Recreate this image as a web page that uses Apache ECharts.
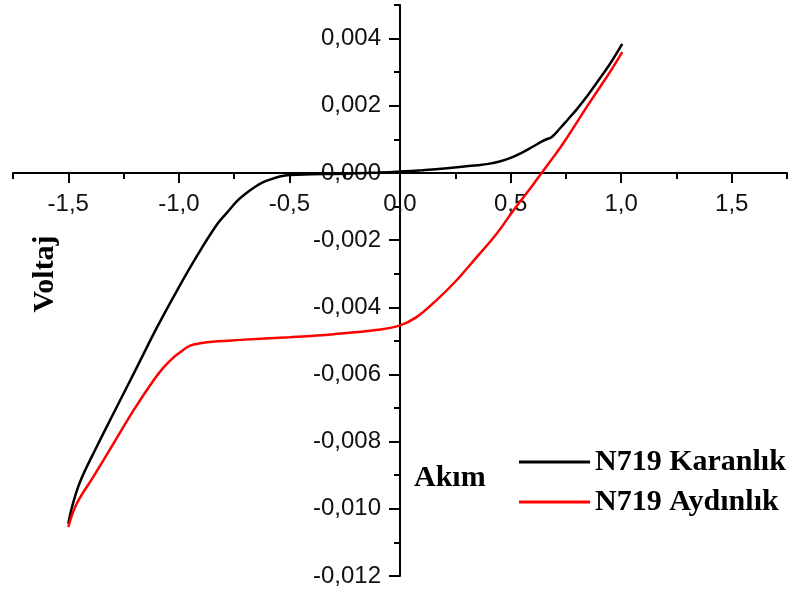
<!DOCTYPE html>
<html><head><meta charset="utf-8">
<script src="https://cdn.jsdelivr.net/npm/echarts@6/dist/echarts.min.js"></script>
<style>html,body{margin:0;padding:0;background:#fff}#c{width:798px;height:598px}</style>
</head><body><div id="c"></div>
<script>
// Data
const seriesNames = ['N719 Karanlık', 'N719 Aydınlık'];
const xTitle = 'Akım';
const yTitle = 'Voltaj';

const darkX = [-1.5, -1.485, -1.447, -1.372, -1.281, -1.19, -1.099, -1.009, -0.918, -0.827, -0.782, -0.736, -0.691, -0.661, -0.623, -0.585, -0.54, -0.5, -0.4, -0.3, -0.2, -0.1, 0, 0.1, 0.2, 0.3, 0.35, 0.4, 0.45, 0.5, 0.55, 0.6, 0.64, 0.665, 0.685, 0.72, 0.76, 0.8, 0.85, 0.9, 0.95, 1.005];
const darkY = [-0.01044, -0.00999, -0.0092, -0.00816, -0.00697, -0.00579, -0.0046, -0.00351, -0.00247, -0.00153, -0.00118, -0.00083, -0.00058, -0.00044, -0.00029, -0.00019, -0.0001, -0.00006, -0.00004, -0.00003, -0.00001, 0.00001, 0.00004, 0.00008, 0.00013, 0.0002, 0.00023, 0.00027, 0.00034, 0.00045, 0.0006, 0.00078, 0.00093, 0.00101, 0.00106, 0.0013, 0.0016, 0.0019, 0.00232, 0.00278, 0.00325, 0.00384];

const lightX = [-1.5, -1.462, -1.387, -1.296, -1.205, -1.115, -1.069, -1.024, -0.994, -0.963, -0.933, -0.873, -0.721, -0.5, -0.3, -0.1, 0, 0.073, 0.163, 0.254, 0.345, 0.436, 0.511, 0.587, 0.647, 0.7, 0.746, 0.852, 0.942, 1.005];
const lightY = [-0.01054, -0.00985, -0.00905, -0.00806, -0.00707, -0.00618, -0.00579, -0.00549, -0.00534, -0.00519, -0.00511, -0.00504, -0.00497, -0.00489, -0.0048, -0.00467, -0.00454, -0.0043, -0.0038, -0.00321, -0.00252, -0.00182, -0.00113, -0.00048, 0.00006, 0.00053, 0.00096, 0.00204, 0.00293, 0.0036];

const xMajorTicks = [-1.5, -1, -0.5, 0, 0.5, 1, 1.5];
const xMinorTicks = [-1.75, -1.25, -0.75, -0.25, 0.25, 0.75, 1.25, 1.75];
const yMajorTicks = [-0.012, -0.01, -0.008, -0.006, -0.004, -0.002, 0, 0.002, 0.004];
const yMinorTicks = [-0.011, -0.009, -0.007, -0.005, -0.003, -0.001, 0.001, 0.003, 0.005];

const X_MIN = -1.75, X_MAX = 1.75, Y_MIN = -0.012, Y_MAX = 0.005;
const W = 798, H = 598;
const G = {left: 13, right: 11, top: 5, bottom: 22};
const gw = W - G.left - G.right, gh = H - G.top - G.bottom;
// shift axes so they cross at the origin
const xOffset = -gh * (0 - Y_MIN) / (Y_MAX - Y_MIN);
const yOffset = -gw * (0 - X_MIN) / (X_MAX - X_MIN);

const chart = echarts.init(document.getElementById('c'), null, {renderer: 'canvas'});
const axisColor = '#000';
const labelFont = {fontFamily: '"Liberation Sans", Arial, sans-serif', fontSize: 24, color: '#111'};
const titleFont = 'bold 30px "Liberation Serif", "Times New Roman", serif';

const option = {
  animation: false,
  backgroundColor: '#fff',
  grid: Object.assign({containLabel: false, outerBoundsMode: 'none'}, G),
  xAxis: [
    {
      type: 'value', min: X_MIN, max: X_MAX, position: 'bottom', offset: xOffset,
      axisLine: {show: true, onZero: false, lineStyle: {color: axisColor, width: 2}},
      axisTick: {show: true, customValues: xMajorTicks, length: 10, lineStyle: {color: axisColor, width: 2}},
      axisLabel: Object.assign({customValues: xMajorTicks, margin: 19,
        formatter: v => v.toFixed(1).replace('.', ',')}, labelFont),
      splitLine: {show: false}
    },
    {
      type: 'value', min: X_MIN, max: X_MAX, position: 'bottom', offset: xOffset,
      axisLine: {show: false, onZero: false},
      axisTick: {show: true, customValues: xMinorTicks, length: 6, lineStyle: {color: axisColor, width: 2}},
      axisLabel: {show: false},
      splitLine: {show: false}
    }
  ],
  yAxis: [
    {
      type: 'value', min: Y_MIN, max: Y_MAX, position: 'left', offset: yOffset,
      axisLine: {show: true, onZero: false, lineStyle: {color: axisColor, width: 2}},
      axisTick: {show: true, customValues: yMajorTicks, length: 11, lineStyle: {color: axisColor, width: 2}},
      axisLabel: Object.assign({customValues: yMajorTicks, margin: 19,
        formatter: v => v.toFixed(3).replace('.', ',')}, labelFont),
      splitLine: {show: false}
    },
    {
      type: 'value', min: Y_MIN, max: Y_MAX, position: 'left', offset: yOffset,
      axisLine: {show: false, onZero: false},
      axisTick: {show: true, customValues: yMinorTicks, length: 6, lineStyle: {color: axisColor, width: 2}},
      axisLabel: {show: false},
      splitLine: {show: false}
    }
  ],
  legend: {
    orient: 'vertical', left: 519, top: 447, padding: 0,
    itemWidth: 71, itemHeight: 3, itemGap: 10, icon: 'rect',
    data: seriesNames,
    textStyle: {fontFamily: '"Liberation Serif", "Times New Roman", serif', fontWeight: 'bold', fontSize: 30, color: '#000', lineHeight: 28}
  },
  series: [
    {
      name: seriesNames[0], type: 'line', xAxisIndex: 0, yAxisIndex: 0,
      data: darkX.map((x, i) => [x, darkY[i]]),
      smooth: 0.4, symbol: 'none', showSymbol: false,
      lineStyle: {color: '#000', width: 2.5}, itemStyle: {color: '#000'}
    },
    {
      name: seriesNames[1], type: 'line', xAxisIndex: 0, yAxisIndex: 0,
      data: lightX.map((x, i) => [x, lightY[i]]),
      smooth: 0.4, symbol: 'none', showSymbol: false,
      lineStyle: {color: '#ff0000', width: 2.5}, itemStyle: {color: '#ff0000'}
    }
  ],
  graphic: [
    {type: 'text', x: 414, y: 478, style: {text: xTitle, font: titleFont, fill: '#000', align: 'left', verticalAlign: 'middle'}},
    {type: 'text', x: 45, y: 274, rotation: Math.PI / 2, style: {text: yTitle, font: titleFont, fill: '#000', align: 'center', verticalAlign: 'middle'}}
  ]
};
chart.setOption(option);
</script>
</body></html>
